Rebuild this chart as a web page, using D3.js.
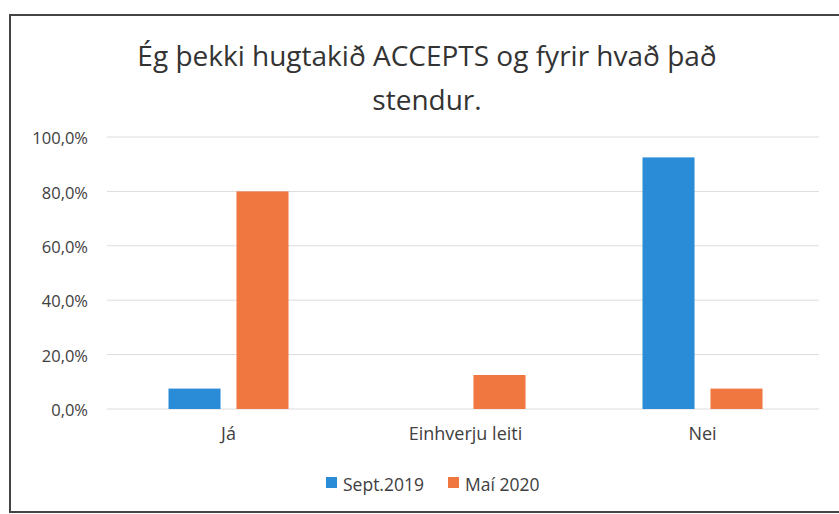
<!DOCTYPE html>
<html>
<head>
<meta charset="utf-8">
<script src="https://cdn.jsdelivr.net/npm/d3@7"></script>
<style>
	body { margin: 0; background: #fff; }
	text { font-family: "Open Sans", "Noto Sans", sans-serif; }
</style>
</head>
<body>
<div id="chart"></div>
<script>
// Clustered column chart: ACCEPTS awareness, Sept.2019 vs Maí 2020

const categories = ['Já', 'Einhverju leiti', 'Nei'];
const seriesNames = ['Sept.2019', 'Maí 2020'];
const sept2019 = [0.075, 0, 0.925];
const mai2020 = [0.80, 0.125, 0.075];
const yTicks = [0, 0.2, 0.4, 0.6, 0.8, 1.0];
const titleLines = ['Ég þekki hugtakið ACCEPTS og fyrir hvað það', 'stendur.'];

const W = 839, H = 514;
const colors = {'Sept.2019': '#2a8bd6', 'Maí 2020': '#f0773f'};

const data = categories.map((c, i) => ({cat: c, 'Sept.2019': sept2019[i], 'Maí 2020': mai2020[i]}));

const svg = d3.select('#chart').append('svg')
	.attr('width', W)
	.attr('height', H);

// chart frame
svg.append('rect')
	.attr('x', 10).attr('y', 15)
	.attr('width', 840).attr('height', 497)
	.attr('fill', 'none')
	.attr('stroke', '#444')
	.attr('stroke-width', 2);

// title
svg.append('text')
	.attr('text-anchor', 'middle')
	.attr('fill', '#333')
	.style('font-size', '28px')
	.selectAll('tspan')
	.data(titleLines)
	.enter()
	.append('tspan')
	.attr('x', 427)
	.attr('y', (d, i) => 66 + i * 44)
	.text(d => d);

const x = d3.scaleBand()
	.domain(categories)
	.range([110, 821]);

const x1 = d3.scaleBand()
	.domain(seriesNames)
	.range([(x.bandwidth() - 120) / 2, (x.bandwidth() + 120) / 2])
	.paddingInner(0.235);

const y = d3.scaleLinear()
	.domain([0, 1])
	.range([409, 137]);

const pct = d => d3.format('.1f')(d * 100).replace('.', ',') + '%';

// gridlines
svg.append('g')
	.selectAll('line')
	.data(yTicks)
	.enter()
	.append('line')
	.attr('x1', 107).attr('x2', 819)
	.attr('y1', d => y(d)).attr('y2', d => y(d))
	.attr('stroke', '#dcdcdc')
	.attr('stroke-width', 1);

// y axis labels
const yAxis = svg.append('g')
	.attr('transform', 'translate(88,0)')
	.call(d3.axisLeft(y).tickValues(yTicks).tickFormat(pct).tickSize(0).tickPadding(0));
yAxis.select('.domain').remove();
yAxis.selectAll('text')
	.attr('fill', '#404040')
	.attr('dy', '0.4em')
	.style('font-size', '16.5px');

// x axis labels
const xAxis = svg.append('g')
	.attr('transform', 'translate(0,421)')
	.call(d3.axisBottom(x).tickSize(0).tickPadding(6));
xAxis.select('.domain').remove();
xAxis.selectAll('text')
	.attr('fill', '#404040')
	.style('font-size', '18px');

// bars
svg.append('g')
	.selectAll('g')
	.data(data)
	.enter()
	.append('g')
	.attr('transform', d => `translate(${x(d.cat)},0)`)
	.selectAll('rect')
	.data(d => seriesNames.map(s => ({key: s, value: d[s]})))
	.enter()
	.append('rect')
	.attr('x', d => x1(d.key))
	.attr('y', d => y(d.value))
	.attr('width', x1.bandwidth())
	.attr('height', d => y(0) - y(d.value))
	.attr('fill', d => colors[d.key]);

// legend
const legend = svg.append('g')
	.attr('transform', 'translate(326,470)');

const item = legend.selectAll('g')
	.data(seriesNames)
	.enter()
	.append('g')
	.attr('transform', (d, i) => `translate(${i * 122},0)`);

item.append('rect')
	.attr('width', 11)
	.attr('height', 11)
	.attr('y', 7)
	.attr('fill', d => colors[d]);

item.append('text')
	.attr('x', 17)
	.attr('y', 16)
	.attr('dy', '0.3em')
	.attr('fill', '#404040')
	.style('font-size', '17.5px')
	.text(d => d);
</script>
</body>
</html>
